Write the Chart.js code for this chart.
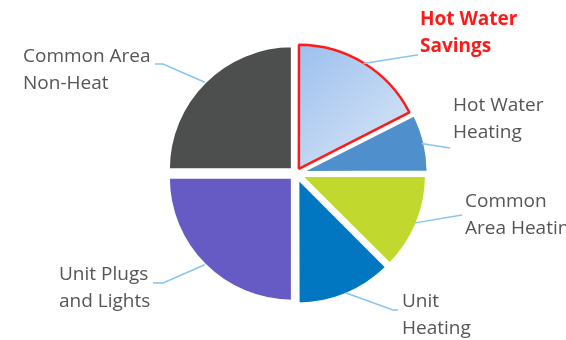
<!DOCTYPE html>
<html>
<head>
<meta charset="utf-8">
<script src="https://cdn.jsdelivr.net/npm/chart.js@4/dist/chart.umd.min.js"></script>
<style>
  html, body { margin: 0; padding: 0; background: #ffffff; }
  #wrap { width: 566px; height: 340px; }
</style>
</head>
<body>
<div id="wrap"><canvas id="c" width="566" height="340"></canvas></div>
<script>
// ---- data ----
const categories = ["Hot Water Savings", "Hot Water Heating", "Common Area Heating", "Unit Heating", "Unit Plugs and Lights", "Common Area Non-Heat"];
const labelLines = [["Hot Water", "Savings"], ["Hot Water", "Heating"], ["Common", "Area Heating"], ["Unit", "Heating"], ["Unit Plugs", "and Lights"], ["Common Area", "Non-Heat"]];
const shares = [17.5, 7.5, 12.5, 12.5, 25, 25];

// ---- style ----
const sliceColors = [null, "#4e8fcc", "#c1d82f", "#0077c0", "#665bc4", "#4d4f4e"];
const borderColors = ["#ff1a1a", "#ffffff", "#ffffff", "#ffffff", "#ffffff", "#ffffff"];
const borderWidths = [2.5, 2.5, 2.5, 2.5, 2.5, 2.5];
const PIE_RADIUS = 123.5;
const OFFSET = 22;              // Chart.js v4 translates arcs by offset/4
const SHIFT = OFFSET / 4;
// label layout: elbow point, line end, text anchor x, first line centre y
const labelLayout = [
  { elbow: [417, 55], end: [418, 55], tx: 420, ty: 20, color: "#ff1a1a", bold: true },
  { elbow: [450, 148], end: [450, 148], tx: 453, ty: 106, color: "#555555" },
  { elbow: [462, 215], end: [462, 215], tx: 465, ty: 202, color: "#555555" },
  { elbow: [393, 310], end: [398, 310], tx: 402, ty: 302, color: "#555555" },
  { elbow: [163, 283], end: [153, 283], tx: 59, ty: 275, color: "#555555" },
  { elbow: [163, 64], end: [155, 64], tx: 23, ty: 57, color: "#555555" }
];
const LINE_GAP = 27;

const labelPlugin = {
  id: "leaderLabels",
  afterDatasetsDraw(chart) {
    const ctx = chart.ctx;
    const meta = chart.getDatasetMeta(0);
    ctx.save();
    meta.data.forEach((arc, i) => {
      const p = arc.getProps(["x", "y", "startAngle", "endAngle", "outerRadius"], true);
      const mid = (p.startAngle + p.endAngle) / 2;
      const r = p.outerRadius + SHIFT;
      const sx = p.x + Math.cos(mid) * r;
      const sy = p.y + Math.sin(mid) * r;
      const L = labelLayout[i];
      ctx.beginPath();
      ctx.strokeStyle = "#86c4f2";
      ctx.lineWidth = 1.5;
      ctx.moveTo(sx, sy);
      ctx.lineTo(L.elbow[0], L.elbow[1]);
      ctx.lineTo(L.end[0], L.end[1]);
      ctx.stroke();
      ctx.fillStyle = L.color;
      ctx.font = (L.bold ? "bold " : "") + "19px 'Open Sans', 'Noto Sans', sans-serif";
      ctx.textAlign = "left";
      ctx.textBaseline = "middle";
      labelLines[i].forEach((t, k) => ctx.fillText(t, L.tx, L.ty + k * LINE_GAP));
    });
    ctx.restore();
  }
};

function sliceBg(context) {
  const i = context.dataIndex;
  if (i !== 0) return sliceColors[i];
  const chart = context.chart;
  const area = chart.chartArea;
  if (!area) return "#b8d0f0";
  const cx = (area.left + area.right) / 2;
  const cy = (area.top + area.bottom) / 2;
  const g = chart.ctx.createLinearGradient(cx, cy - PIE_RADIUS, cx + PIE_RADIUS * 0.9, cy);
  g.addColorStop(0, "#9cc0ee");
  g.addColorStop(1, "#dce8f7");
  return g;
}

new Chart(document.getElementById("c"), {
  type: "pie",
  data: {
    labels: categories,
    datasets: [{
      data: shares,
      backgroundColor: sliceBg,
      borderColor: borderColors,
      borderWidth: borderWidths,
      offset: OFFSET,
      hoverOffset: OFFSET
    }]
  },
  options: {
    responsive: false,
    animation: false,
    radius: PIE_RADIUS,
    layout: { padding: { left: 26, right: 0, top: 7, bottom: 0 } },
    plugins: { legend: { display: false }, tooltip: { enabled: false } },
    events: []
  },
  plugins: [labelPlugin]
});
</script>
</body>
</html>
